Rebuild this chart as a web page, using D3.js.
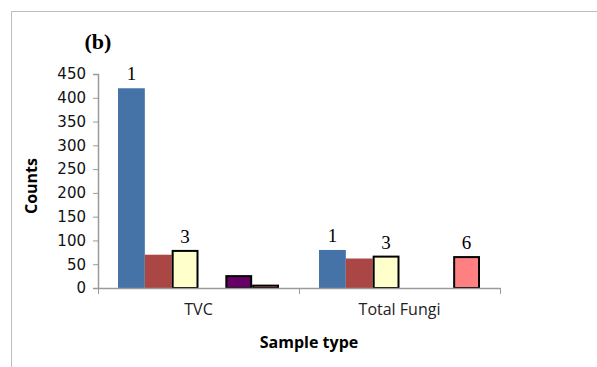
<!DOCTYPE html>
<html>
<head>
<meta charset="utf-8">
<style>
  body { margin: 0; background: #fff; }
  svg { display: block; }
</style>
</head>
<body>
<script src="https://cdn.jsdelivr.net/npm/d3@7"></script>
<script>
// data
var categories = ["TVC", "Total Fungi"];
var seriesNames = ["1", "2", "3", "4", "5", "6"];
var tvcValues = [420, 70, 78, 0, 25, 5];
var fungiValues = [80, 62, 66, 0, 0, 65];
var yTicks = [0, 50, 100, 150, 200, 250, 300, 350, 400, 450];
// which bars carry a number above them
var tvcLabels = ["1", "", "3", "", "", ""];
var fungiLabels = ["1", "", "3", "", "", "6"];

var colors = ["#4572A7", "#AA4643", "#FFFFCC", "#80699B", "#660066", "#FF8080"];
var outlined = [false, false, true, true, true, true];

var width = 597, height = 367;
var margins = { left: 98, top: 74, right: 97, bottom: 79 };
var graphWidth = width - margins.left - margins.right;
var graphHeight = height - margins.top - margins.bottom;

var svg = d3.select('body').append('svg')
    .attr('width', width)
    .attr('height', height);

// frame (only left and top edge visible in the crop)
svg.append('path')
    .attr('d', 'M11.5,' + height + 'V11.5H' + width)
    .attr('fill', 'none')
    .attr('stroke', '#bdbdbd')
    .attr('stroke-width', 1);

var x0 = d3.scaleBand().domain(categories).range([0, graphWidth]).paddingInner(0).paddingOuter(0);
var x1 = d3.scaleBand().domain(seriesNames).range([20, x0.bandwidth() - 20]);
var y = d3.scaleLinear().domain([0, 450]).range([graphHeight, 0]);

var g = svg.append('g')
    .attr('transform', 'translate(' + margins.left + ',' + margins.top + ')');

// y axis
var yAxisNodes = g.append('g')
    .call(d3.axisLeft(y).tickValues(yTicks).tickSize(5).tickPadding(7).tickSizeOuter(5));
styleAxis(yAxisNodes);
yAxisNodes.selectAll('text')
    .attr('font-family', 'DejaVu Sans, Verdana, sans-serif')
    .attr('font-size', 15)
    .attr('fill', '#111');

// bars
var rows = [
    { cat: categories[0], values: tvcValues, labels: tvcLabels },
    { cat: categories[1], values: fungiValues, labels: fungiLabels }
];

var groups = g.selectAll('.cat')
    .data(rows)
    .enter().append('g')
    .attr('class', 'cat')
    .attr('transform', function (d) { return 'translate(' + x0(d.cat) + ',0)'; });

groups.selectAll('rect')
    .data(function (d) {
        return d.values.map(function (v, i) { return { v: v, i: i }; })
            .filter(function (e) { return e.v > 0; });
    })
    .enter().append('rect')
    .attr('x', function (d) { return x1(seriesNames[d.i]) + (outlined[d.i] ? 1 : 0); })
    .attr('y', function (d) { return y(d.v); })
    .attr('width', function (d) { return x1.bandwidth() - (outlined[d.i] ? 2 : 0); })
    .attr('height', function (d) { return y(0) - y(d.v); })
    .attr('fill', function (d) { return colors[d.i]; })
    .attr('stroke', function (d) { return outlined[d.i] ? '#000' : 'none'; })
    .attr('stroke-width', 2);

groups.selectAll('text.lbl')
    .data(function (d) {
        return d.values.map(function (v, i) { return { v: v, i: i, t: d.labels[i] }; })
            .filter(function (e) { return e.t !== ""; });
    })
    .enter().append('text')
    .attr('class', 'lbl')
    .attr('x', function (d) { return x1(seriesNames[d.i]) + x1.bandwidth() / 2; })
    .attr('y', function (d) { return y(d.v) - 8; })
    .attr('text-anchor', 'middle')
    .attr('font-family', 'Liberation Serif, Times New Roman, serif')
    .attr('font-size', 19)
    .text(function (d) { return d.t; });

// x axis
var xAxisNodes = g.append('g')
    .attr('transform', 'translate(0,' + graphHeight + ')')
    .call(d3.axisBottom(x0).tickSize(0).tickPadding(16));
styleAxis(xAxisNodes);
xAxisNodes.selectAll('text')
    .attr('font-family', 'Open Sans, sans-serif')
    .attr('font-size', 16)
    .attr('fill', '#222');
// boundary ticks between categories
xAxisNodes.selectAll('.bound')
    .data([0, 1, 2])
    .enter().append('line')
    .attr('x1', function (d) { return Math.round(d * x0.bandwidth()) + 0.5; })
    .attr('x2', function (d) { return Math.round(d * x0.bandwidth()) + 0.5; })
    .attr('y1', 0)
    .attr('y2', 6)
    .attr('stroke', '#9a9a9a');

// titles
svg.append('text')
    .attr('x', 98).attr('y', 49)
    .attr('text-anchor', 'middle')
    .attr('font-family', 'Liberation Serif, Times New Roman, serif')
    .attr('font-weight', 'bold')
    .attr('font-size', 22)
    .text('(b)');

svg.append('text')
    .attr('transform', 'translate(37,186) rotate(-90)')
    .attr('text-anchor', 'middle')
    .attr('font-family', 'Open Sans, sans-serif')
    .attr('font-weight', 'bold')
    .attr('font-size', 16)
    .text('Counts');

svg.append('text')
    .attr('x', 309).attr('y', 348)
    .attr('text-anchor', 'middle')
    .attr('font-family', 'Open Sans, sans-serif')
    .attr('font-weight', 'bold')
    .attr('font-size', 16)
    .text('Sample type');

function styleAxis(nodes) {
    nodes.selectAll('.domain').attr('stroke', '#9a9a9a').attr('stroke-width', 1.5);
    nodes.selectAll('.tick line').attr('stroke', '#9a9a9a');
}
</script>
</body>
</html>
